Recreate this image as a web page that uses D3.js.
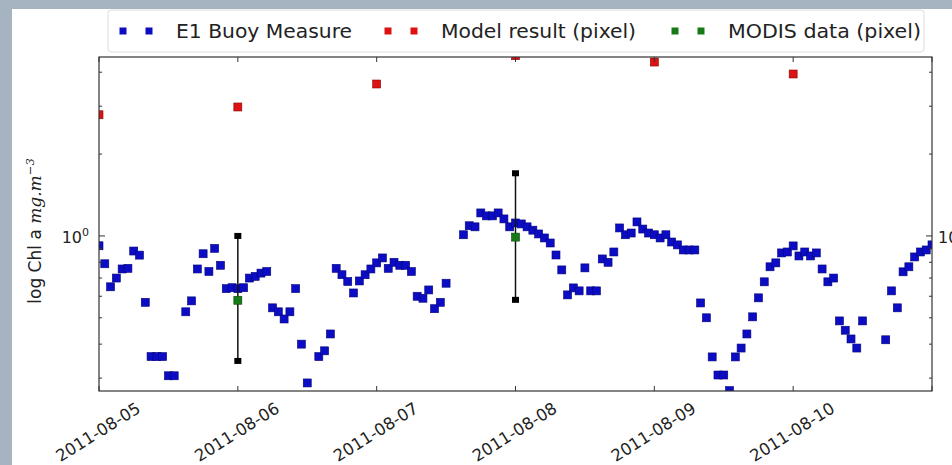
<!DOCTYPE html>
<html>
<head>
<meta charset="utf-8">
<script src="https://cdn.jsdelivr.net/npm/d3@7"></script>
<style>
  html, body { margin: 0; padding: 0; background: #a6b3c0; }
  svg { display: block; }
  text { font-family: "DejaVu Sans", sans-serif; fill: #222; }
</style>
</head>
<body>
<div id="chart"></div>
<script>
// Chart data
var startTime = "2011-08-05T00:00:00";

// E1 buoy, hours since start and chl a (mg/m3)
var buoyHours = [0,1,2,3,4,5,6,7,8,9,10,11,12,13,
    15,16,17,18,19,20,21,22,23,24,25,26,27,28,29,30,31,32,33,34,35,36,
    38,39,40,41,42,43,44,45,46,47,48,49,50,51,52,53,54,55,56,57,58,59,60,
    63,64,65,66,67,68,69,70,71,72,73,74,75,76,77,78,79,80,81,82,83,84,85,86,87,88,89,
    90,91,92,93,94,95,96,97,98,99,100,101,102,103,104,105,106,107,108,109,110,111,112,
    113,114,115,116,117,118,119,120,121,122,123,124,125,126,127,128,129,130,131,132,
    136,137,138,139,140,141,142,143,144];
var buoyChl = [0.92,0.79,0.65,0.70,0.756,0.76,0.88,0.85,0.57,0.36,0.36,0.36,0.306,0.306,
    0.526,0.577,0.756,0.86,0.74,0.90,0.78,0.64,0.645,0.64,0.645,0.70,0.71,0.73,0.74,0.544,0.526,0.495,0.526,0.64,0.40,0.288,
    0.36,0.378,0.436,0.76,0.72,0.68,0.617,0.683,0.72,0.756,0.796,0.83,0.76,0.80,0.78,0.78,0.74,0.60,0.59,0.633,0.54,0.57,0.67,
    1.01,1.09,1.08,1.215,1.185,1.185,1.215,1.155,1.08,1.116,1.107,1.08,1.05,1.017,0.983,0.942,0.851,0.75,0.607,0.644,0.628,0.763,0.628,0.628,0.823,0.80,0.873,
    1.07,1.01,1.025,1.126,1.06,1.025,1.01,0.983,1.01,0.95,0.927,0.888,0.888,0.888,0.567,0.50,0.359,0.308,0.308,0.27,0.359,0.387,0.436,
    0.504,0.592,0.678,0.77,0.796,0.866,0.873,0.919,0.844,0.873,0.844,0.866,0.756,0.678,0.70,0.487,0.45,0.418,0.387,0.487,
    0.415,0.628,0.544,0.738,0.77,0.837,0.873,0.888,0.927];

// model result, one per day
var modelDays = ["2011-08-05","2011-08-06","2011-08-07","2011-08-08","2011-08-09","2011-08-10"];
var modelChl = [2.79, 2.98, 3.62, 4.6, 4.36, 3.94];

// MODIS pixel with its range
var modisDays = ["2011-08-06","2011-08-08"];
var modisChl = [0.58, 0.99];
var modisLow = [0.347, 0.582];
var modisHigh = [1.0, 1.70];

var legendLabels = ["E1 Buoy Measure", "Model result (pixel)", "MODIS data (pixel)"];
var legendColors = ["#0c0cc4", "#dd1111", "#177a17"];
var yMinorTicks = [0.3,0.4,0.5,0.6,0.7,0.8,0.9,2,3,4];

var width = 952, height = 465;
var margin = {left: 99, right: 20, top: 57, bottom: 74};
var parseDay = d3.timeParse("%Y-%m-%d");
var t0 = d3.isoParse(startTime);

var svg = d3.select("#chart").append("svg")
    .attr("width", width)
    .attr("height", height);

// white figure panel over the photo background
svg.append("rect")
    .attr("x", 12).attr("y", 9)
    .attr("width", width - 12).attr("height", height - 9)
    .attr("fill", "#fff");

var x = d3.scaleTime()
    .domain([t0, d3.timeDay.offset(t0, 6)])
    .range([margin.left, width - margin.right]);
var y = d3.scaleLog()
    .domain([0.269, 4.55])
    .range([height - margin.bottom, margin.top]);

var x0 = x.range()[0], x1 = x.range()[1], y0 = y.range()[0], y1 = y.range()[1];

svg.append("clipPath").attr("id", "plotClip")
  .append("rect")
    .attr("x", x0).attr("y", y1)
    .attr("width", x1 - x0).attr("height", y0 - y1);

var plot = svg.append("g").attr("clip-path", "url(#plotClip)");
var ms = 8;

// buoy squares
plot.selectAll(".buoy")
    .data(buoyHours)
    .enter().append("rect")
    .attr("class", "buoy")
    .attr("x", function(d) { return x(d3.timeHour.offset(t0, d)) - ms/2; })
    .attr("y", function(d, i) { return y(buoyChl[i]) - ms/2; })
    .attr("width", ms).attr("height", ms)
    .attr("fill", legendColors[0])
    .attr("stroke", "#06067a").attr("stroke-width", 0.6);

// model squares
plot.selectAll(".model")
    .data(modelDays)
    .enter().append("rect")
    .attr("class", "model")
    .attr("x", function(d) { return x(parseDay(d)) - ms/2; })
    .attr("y", function(d, i) { return y(modelChl[i]) - ms/2; })
    .attr("width", ms).attr("height", ms)
    .attr("fill", legendColors[1])
    .attr("stroke", "#8a0a0a").attr("stroke-width", 0.6);

// MODIS error bars
var err = plot.selectAll(".err")
    .data(modisDays)
    .enter().append("g")
    .attr("class", "err");
err.append("line")
    .attr("x1", function(d) { return x(parseDay(d)); })
    .attr("x2", function(d) { return x(parseDay(d)); })
    .attr("y1", function(d, i) { return y(modisLow[i]); })
    .attr("y2", function(d, i) { return y(modisHigh[i]); })
    .attr("stroke", "#111").attr("stroke-width", 1.5);
err.selectAll(".cap")
    .data(function(d, i) { return [[d, modisLow[i]], [d, modisHigh[i]]]; })
    .enter().append("rect")
    .attr("x", function(d) { return x(parseDay(d[0])) - 3.5; })
    .attr("y", function(d) { return y(d[1]) - 3; })
    .attr("width", 7).attr("height", 6)
    .attr("fill", "#000");

plot.selectAll(".modis")
    .data(modisDays)
    .enter().append("rect")
    .attr("class", "modis")
    .attr("x", function(d) { return x(parseDay(d)) - ms/2; })
    .attr("y", function(d, i) { return y(modisChl[i]) - ms/2; })
    .attr("width", ms).attr("height", ms)
    .attr("fill", legendColors[2])
    .attr("stroke", "#0b4a0b").attr("stroke-width", 0.6);

// frame and ticks (inward, matplotlib style)
var dayTicks = x.ticks(d3.timeDay.every(1));
var tickG = svg.append("g").attr("stroke", "#333").attr("stroke-width", 1);
tickG.selectAll(".xb").data(dayTicks).enter().append("line")
    .attr("x1", x).attr("x2", x).attr("y1", y0).attr("y2", y0 - 5);
tickG.selectAll(".xt").data(dayTicks).enter().append("line")
    .attr("x1", x).attr("x2", x).attr("y1", y1).attr("y2", y1 + 5);
[x0, x1].forEach(function(edge) {
    var dir = edge === x0 ? 1 : -1;
    tickG.append("line")
        .attr("x1", edge).attr("x2", edge + dir * 6)
        .attr("y1", y(1)).attr("y2", y(1));
    tickG.selectAll(null).data(yMinorTicks).enter().append("line")
        .attr("x1", edge).attr("x2", edge + dir * 3)
        .attr("y1", y).attr("y2", y);
});
svg.append("rect")
    .attr("x", x0).attr("y", y1)
    .attr("width", x1 - x0).attr("height", y0 - y1)
    .attr("fill", "none").attr("stroke", "#333").attr("stroke-width", 1.2);

// x tick labels, rotated
var fmt = d3.timeFormat("%Y-%m-%d");
svg.selectAll(".xlab")
    .data(dayTicks.slice(0, 6))
    .enter().append("text")
    .attr("class", "xlab")
    .attr("transform", function(d) { return "translate(" + (x(d) - 1) + "," + 432 + ") rotate(-32)"; })
    .attr("text-anchor", "middle")
    .attr("dy", "0.35em")
    .style("font-size", "16.5px")
    .text(fmt);

// y tick labels 10^0 on both sides
function decadeLabel(xp, anchor) {
    var t = svg.append("text")
        .attr("x", xp).attr("y", y(1) + 7)
        .attr("text-anchor", anchor)
        .style("font-size", "16px");
    t.append("tspan").text("10");
    t.append("tspan").attr("dy", -7).style("font-size", "11px").text("0");
}
decadeLabel(x0 - 10, "end");
decadeLabel(x1 + 6, "start");

// y axis label
var yl = svg.append("text")
    .attr("transform", "translate(41," + 231 + ") rotate(-90)")
    .attr("text-anchor", "middle")
    .style("font-size", "17px");
yl.append("tspan").text("log Chl a ");
yl.append("tspan").style("font-family", "'DejaVu Serif', serif").style("font-style", "italic").text("mg.m");
yl.append("tspan").attr("dy", -7).style("font-size", "11.5px")
    .style("font-family", "'DejaVu Serif', serif").style("font-style", "italic").text("\u22123");

// legend
var leg = svg.append("g");
leg.append("rect")
    .attr("x", 108).attr("y", 10)
    .attr("width", 816).attr("height", 42)
    .attr("rx", 3)
    .attr("fill", "#fff").attr("stroke", "#ddd");
var legX = [123, 388, 675];
var legW = [176, 195, 193];
var item = leg.selectAll(".legItem")
    .data(legendLabels)
    .enter().append("g")
    .attr("class", "legItem")
    .attr("transform", function(d, i) { return "translate(" + legX[i] + ",31)"; });
item.selectAll("rect")
    .data(function(d, i) { return [i, i]; })
    .enter().append("rect")
    .attr("x", function(d, j) { return j * 26 - 3.5; })
    .attr("y", -3.5)
    .attr("width", 7).attr("height", 7)
    .attr("fill", function(d) { return legendColors[d]; });
item.append("text")
    .attr("x", 53)
    .attr("dy", "0.35em")
    .attr("textLength", function(d, i) { return legW[i]; })
    .attr("lengthAdjust", "spacingAndGlyphs")
    .style("font-family", "'DejaVu Sans Condensed', 'DejaVu Sans', sans-serif")
    .style("font-size", "20px")
    .text(function(d) { return d; });
</script>
</body>
</html>
